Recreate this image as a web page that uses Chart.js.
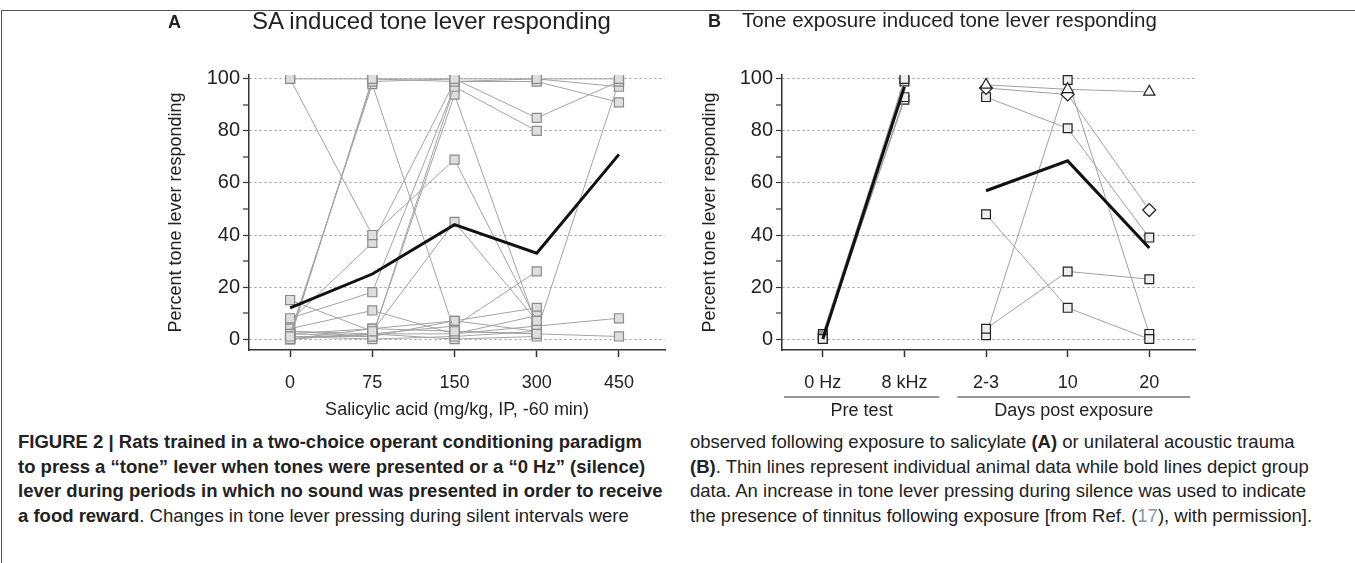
<!DOCTYPE html>
<html>
<head>
<meta charset="utf-8">
<script src="https://cdn.jsdelivr.net/npm/chart.js@4.4.1/dist/chart.umd.min.js"></script>
<style>
  body { margin: 0; background: #fff; font-family: 'Liberation Sans', Arial, sans-serif; color: #222; }
  #page { position: relative; width: 1355px; height: 563px; overflow: hidden; }
  #frame { position: absolute; left: 1px; top: 10px; width: 1360px; height: 600px; border-top: 1.5px solid #555; border-left: 1.5px solid #555; }
  canvas { position: absolute; top: 0; }
  .letter { position: absolute; font-weight: bold; font-size: 18px; }
  .title { position: absolute; white-space: nowrap; }
  .caption { position: absolute; top: 430px; font-family: 'Liberation Sans Narrow', 'Liberation Sans', Arial, sans-serif; font-size: 18.5px; line-height: 24.5px; white-space: nowrap; color: #222; }
  .ref { color: #7f97a8; }
</style>
</head>
<body>
<div id="page">
  <div id="frame"></div>
  <canvas id="chartA" width="690" height="430" style="left:0"></canvas>
  <canvas id="chartB" width="665" height="430" style="left:690px"></canvas>
  <div class="letter" style="left:168px; top:12px">A</div>
  <div class="title" style="left:252px; top:7px; font-size:24px">SA induced tone lever responding</div>
  <div class="letter" style="left:708px; top:11px">B</div>
  <div class="title" style="left:742px; top:8px; font-size:20.5px">Tone exposure induced tone lever responding</div>
  <div class="caption" style="left:18px">
    <b>FIGURE 2 | Rats trained in a two-choice operant conditioning paradigm</b><br>
    <b>to press a “tone” lever when tones were presented or a “0 Hz” (silence)</b><br>
    <b>lever during periods in which no sound was presented in order to receive</b><br>
    <b>a food reward</b>. Changes in tone lever pressing during silent intervals were
  </div>
  <div class="caption" style="left:690px">
    observed following exposure to salicylate <b>(A)</b> or unilateral acoustic trauma<br>
    <b>(B)</b>. Thin lines represent individual animal data while bold lines depict group<br>
    data. An increase in tone lever pressing during silence was used to indicate<br>
    the presence of tinnitus following exposure [from Ref. (<span class="ref">17</span>), with permission].
  </div>
</div>
<script>
// panel A: salicylate doses
const doseLabels = ['0', '75', '150', '300', '450'];
const saGroupMean = [12, 25, 44, 33, 71];
// one row per animal, value per dose (null = not tested)
const saAnimals = [
    [100, 100, 100, 100, 100],
    [100, 40, 69, 7, null],
    [1, 99, 100, 85, 99],
    [2, 98, 3, 2, 1],
    [0, 100, 99, 100, 97],
    [15, 3, 45, 7, null],
    [8, 18, 97, 80, null],
    [4, 11, 2, 9, null],
    [7, 37, 99, 99, 91],
    [3, 1, 94, 5, 8],
    [2, 4, 7, 3, 99],
    [0, 2, 5, 26, null],
    [2, 1, 7, 12, null],
    [1, 0, 1, 3, null],
    [0, 4, 3, 2, null],
    [3, 2, 0, 1, null],
    [1, 1, 97, null, null],
    [0, 2, 2, 5, null]
];

// panel B: tone exposure
const phaseLabels = ['0 Hz', '8 kHz', '2-3', '10', '20'];
const phaseGroups = ['Pre test', 'Days post exposure'];
const phaseGroupSpans = [[0, 1], [2, 4]];
const preTestAnimals = [[0, 100], [2, 99], [0, 93], [1, 92]];
const preTestMean = [0, 97];
const postAnimals = [
    [97.7, 96, 95],
    [96.5, 94, 49.6],
    [93, 81, 39],
    [48, 12, 0],
    [4, 26, 23],
    [1.5, 99.6, 2]
];
const postMarkers = ['triangle', 'rectRot', 'rect', 'rect', 'rect', 'rect'];
const postMean = [57, 68.5, 35];

const percentTicks = [0, 10, 20, 30, 40, 50, 60, 70, 80, 90, 100];
const FONT = "'Liberation Sans', Arial, sans-serif";

function toPoints(values, offset) {
    return values
        .map((v, i) => v == null ? null : { x: i + offset, y: v })
        .filter(p => p);
}

function percentAxis(width) {
    return {
        min: -4.2,
        max: 101.5,
        afterBuildTicks: s => { s.ticks = percentTicks.map(v => ({ value: v })); },
        afterFit: s => { s.width = width; },
        border: { color: '#333', width: 1.5, dash: [2, 3] },
        grid: {
            color: '#9a9a9a',
            lineWidth: c => (c.tick && c.tick.value % 20 === 0) ? 1 : 0,
            tickColor: '#333',
            tickWidth: 1.2,
            tickLength: 6
        },
        ticks: {
            callback: v => v % 20 === 0 ? v : '',
            font: { family: FONT, size: 20 },
            color: '#222',
            padding: 3
        },
        title: {
            display: true,
            text: 'Percent tone lever responding',
            font: { family: FONT, size: 18 },
            color: '#222',
            padding: { top: 0, bottom: 0 }
        }
    };
}

function categoryAxis(labels, height, titleText) {
    return {
        type: 'linear',
        min: -0.5,
        max: 4.56,
        afterBuildTicks: s => { s.ticks = labels.map((_, i) => ({ value: i })); },
        afterFit: s => { s.height = height; },
        border: { color: '#333', width: 1.5 },
        grid: { drawOnChartArea: false, tickLength: 7, tickColor: '#333', tickWidth: 1.5 },
        ticks: {
            callback: v => labels[v],
            font: { family: FONT, size: 18 },
            color: '#222',
            padding: 15,
            autoSkip: false,
            maxRotation: 0
        },
        title: {
            display: !!titleText,
            text: titleText || '',
            font: { family: FONT, size: 18 },
            color: '#222',
            padding: { top: 0, bottom: 9 }
        }
    };
}

function meanLine(points) {
    return { data: points, showLine: true, borderColor: '#111', borderWidth: 3, pointRadius: 0 };
}

const baseOptions = {
    responsive: false,
    animation: false,
    devicePixelRatio: 1,
    plugins: { legend: { display: false }, tooltip: { enabled: false } }
};

// ---- panel A
const datasetsA = [meanLine(toPoints(saGroupMean, 0))];
for (const animal of saAnimals) {
    datasetsA.push({
        data: toPoints(animal, 0),
        showLine: true,
        borderColor: '#a3a3a3',
        borderWidth: 1,
        pointStyle: 'rect',
        pointRadius: 6.4,
        pointBackgroundColor: '#dedede',
        pointBorderColor: '#8a8a8a',
        pointBorderWidth: 1.2
    });
}

new Chart(document.getElementById('chartA'), {
    type: 'scatter',
    data: { datasets: datasetsA },
    options: {
        ...baseOptions,
        layout: { padding: { left: 165, right: 25, top: 75, bottom: 0 } },
        scales: {
            x: categoryAxis(doseLabels, 80, 'Salicylic acid (mg/kg, IP, -60 min)'),
            y: percentAxis(84)
        }
    }
});

// ---- panel B
const phaseGroupPlugin = {
    id: 'phaseGroups',
    afterDraw(chart) {
        const { ctx } = chart;
        const x = chart.scales.x;
        const step = x.getPixelForValue(1) - x.getPixelForValue(0);
        ctx.save();
        ctx.strokeStyle = '#333';
        ctx.lineWidth = 1.2;
        ctx.fillStyle = '#222';
        ctx.font = '18px ' + FONT;
        ctx.textAlign = 'center';
        ctx.textBaseline = 'middle';
        phaseGroupSpans.forEach(([a, b], i) => {
            const x1 = Math.max(x.getPixelForValue(a) - step / 2, chart.chartArea.left) + (i ? 12 : 2);
            const x2 = Math.min(x.getPixelForValue(b) + step / 2, chart.chartArea.right) - (i ? 0 : 6);
            ctx.beginPath();
            ctx.moveTo(x1, 397);
            ctx.lineTo(x2, 397);
            ctx.stroke();
            ctx.fillText(phaseGroups[i], (x1 + x2) / 2, 411);
        });
        ctx.restore();
    }
};

const datasetsB = [
    meanLine(toPoints(preTestMean, 0)),
    meanLine(toPoints(postMean, 2))
];
for (const animal of preTestAnimals) {
    datasetsB.push({
        data: toPoints(animal, 0),
        showLine: true,
        borderColor: '#a0a0a0',
        borderWidth: 1,
        pointStyle: 'rect',
        pointRadius: 6.2,
        pointBackgroundColor: ctx => ctx.dataIndex === 0 && animal[0] > 1 ? '#999' : '#eee',
        pointBorderColor: '#222',
        pointBorderWidth: 1.2
    });
}
postAnimals.forEach((animal, i) => {
    datasetsB.push({
        data: toPoints(animal, 2),
        showLine: true,
        borderColor: '#a0a0a0',
        borderWidth: 1,
        pointStyle: postMarkers[i],
        pointRadius: postMarkers[i] === 'rect' ? 6.2 : 6.5,
        pointBackgroundColor: postMarkers[i] === 'rect' ? '#eee' : '#fff',
        pointBorderColor: '#222',
        pointBorderWidth: 1.2
    });
});

new Chart(document.getElementById('chartB'), {
    type: 'scatter',
    data: { datasets: datasetsB },
    options: {
        ...baseOptions,
        layout: { padding: { left: 9, right: 160, top: 75, bottom: 0 } },
        scales: {
            x: categoryAxis(phaseLabels, 80, ''),
            y: percentAxis(83)
        }
    },
    plugins: [phaseGroupPlugin]
});
</script>
</body>
</html>
